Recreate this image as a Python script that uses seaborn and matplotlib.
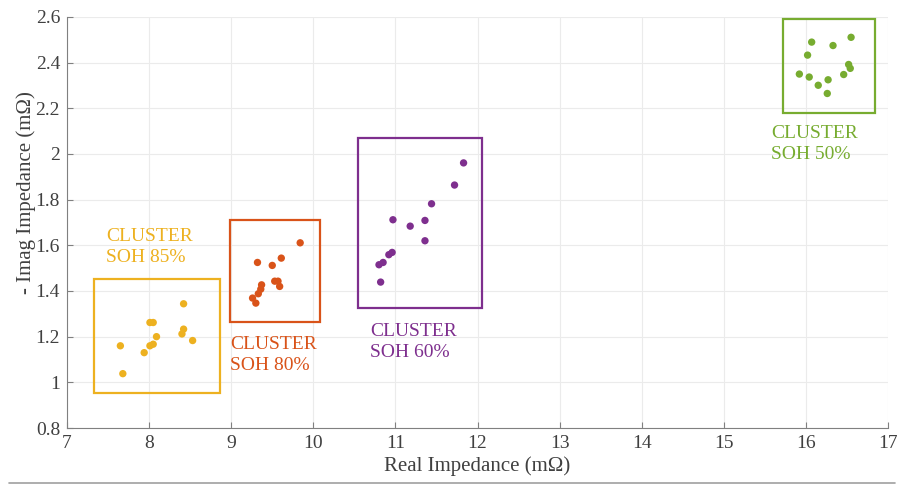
import pandas as pd
import matplotlib
matplotlib.use("Agg")
import matplotlib.pyplot as plt
import matplotlib.patches as mpatches
from matplotlib.lines import Line2D
import seaborn as sns

# punkty (Re, -Im) w mOhm
soh85_x = [8.42, 8.01, 8.05, 8.09, 8.42, 8.40, 8.53, 7.65, 8.05, 8.01, 7.94, 7.68]
soh85_y = [1.344, 1.262, 1.262, 1.200, 1.233, 1.212, 1.183, 1.160, 1.167, 1.160, 1.130, 1.038]

soh80_x = [9.84, 9.32, 9.50, 9.61, 9.37, 9.36, 9.33, 9.26, 9.30, 9.53, 9.57, 9.59]
soh80_y = [1.611, 1.525, 1.512, 1.544, 1.427, 1.408, 1.388, 1.369, 1.347, 1.443, 1.443, 1.420]

soh60_x = [11.83, 11.72, 11.44, 10.97, 11.36, 11.18, 11.36, 10.96, 10.92, 10.85, 10.80, 10.82]
soh60_y = [1.961, 1.864, 1.782, 1.712, 1.709, 1.684, 1.620, 1.569, 1.559, 1.525, 1.515, 1.439]

soh50_x = [16.07, 16.55, 16.33, 16.02, 16.52, 16.54, 16.46, 15.92, 16.04, 16.27, 16.15, 16.26]
soh50_y = [2.490, 2.511, 2.475, 2.433, 2.392, 2.375, 2.348, 2.350, 2.337, 2.325, 2.301, 2.265]

cluster_names = ["SOH 85%", "SOH 80%", "SOH 60%", "SOH 50%"]
cluster_colors = ["#EDB120", "#D95319", "#7E2F8E", "#77AC30"]
# ramki klastrow: (x0, x1, y0, y1)
cluster_boxes = [(7.33, 8.86, 0.952, 1.453),
                 (8.98, 10.08, 1.266, 1.712),
                 (10.55, 12.05, 1.325, 2.070),
                 (15.72, 16.84, 2.180, 2.590)]
# pozycje etykiet (lewy gorny rog)
label_pos = [(7.48, 1.677), (8.99, 1.204), (10.69, 1.261), (15.58, 2.125)]

x_ticks = list(range(7, 18))
y_ticks = [0.8, 1.0, 1.2, 1.4, 1.6, 1.8, 2.0, 2.2, 2.4, 2.6]

frames = []
for name, xs, ys in zip(cluster_names,
                        [soh85_x, soh80_x, soh60_x, soh50_x],
                        [soh85_y, soh80_y, soh60_y, soh50_y]):
    frames.append(pd.DataFrame({"re": xs, "im": ys, "cluster": name}))
data = pd.concat(frames, ignore_index=True)

sns.set_theme(style="whitegrid")
plt.rcParams["font.family"] = ["Liberation Serif", "DejaVu Serif"]

fig = plt.figure(figsize=(8.97, 4.84), dpi=100)
ax = fig.add_axes([0.0747, 0.1157, 0.9153, 0.8492])

sns.scatterplot(data=data, x="re", y="im", hue="cluster",
                palette=dict(zip(cluster_names, cluster_colors)),
                s=28, linewidth=0, legend=False, ax=ax, zorder=3)

for (x0, x1, y0, y1), col in zip(cluster_boxes, cluster_colors):
    ax.add_patch(mpatches.Rectangle((x0, y0), x1 - x0, y1 - y0, fill=False,
                                    edgecolor=col, linewidth=1.6, zorder=2))

for (tx, ty), name, col in zip(label_pos, cluster_names, cluster_colors):
    ax.text(tx, ty, "CLUSTER\n" + name, color=col, fontsize=14,
            ha="left", va="top", linespacing=1.3)

ax.set_xlim(7, 17)
ax.set_ylim(0.8, 2.6)
ax.set_xticks(x_ticks)
ax.set_yticks(y_ticks)
ax.set_yticklabels([f"{v:g}" for v in y_ticks])
ax.set_xlabel("Real Impedance (mΩ)", fontsize=15, color="#404040", labelpad=3)
ax.set_ylabel("- Imag Impedance (mΩ)", fontsize=15, color="#404040", labelpad=0)
ax.yaxis.label.set_y(0.572)

ax.grid(True, color="#ebebeb", linewidth=0.8)
ax.tick_params(axis="both", direction="in", length=4, width=0.8,
               color="#808080", labelsize=14, labelcolor="#404040", pad=5)
ax.tick_params(bottom=True, left=True)
for side in ["top", "right"]:
    ax.spines[side].set_visible(False)
for side in ["left", "bottom"]:
    ax.spines[side].set_color("#808080")
    ax.spines[side].set_linewidth(0.8)

# cienka linia na dole obrazka
fig.add_artist(Line2D([0.01, 0.998], [0.003, 0.003], color="#a0a0a0",
                      linewidth=1.2, transform=fig.transFigure))

fig.savefig("out.png", dpi=100)
plt.close(fig)
